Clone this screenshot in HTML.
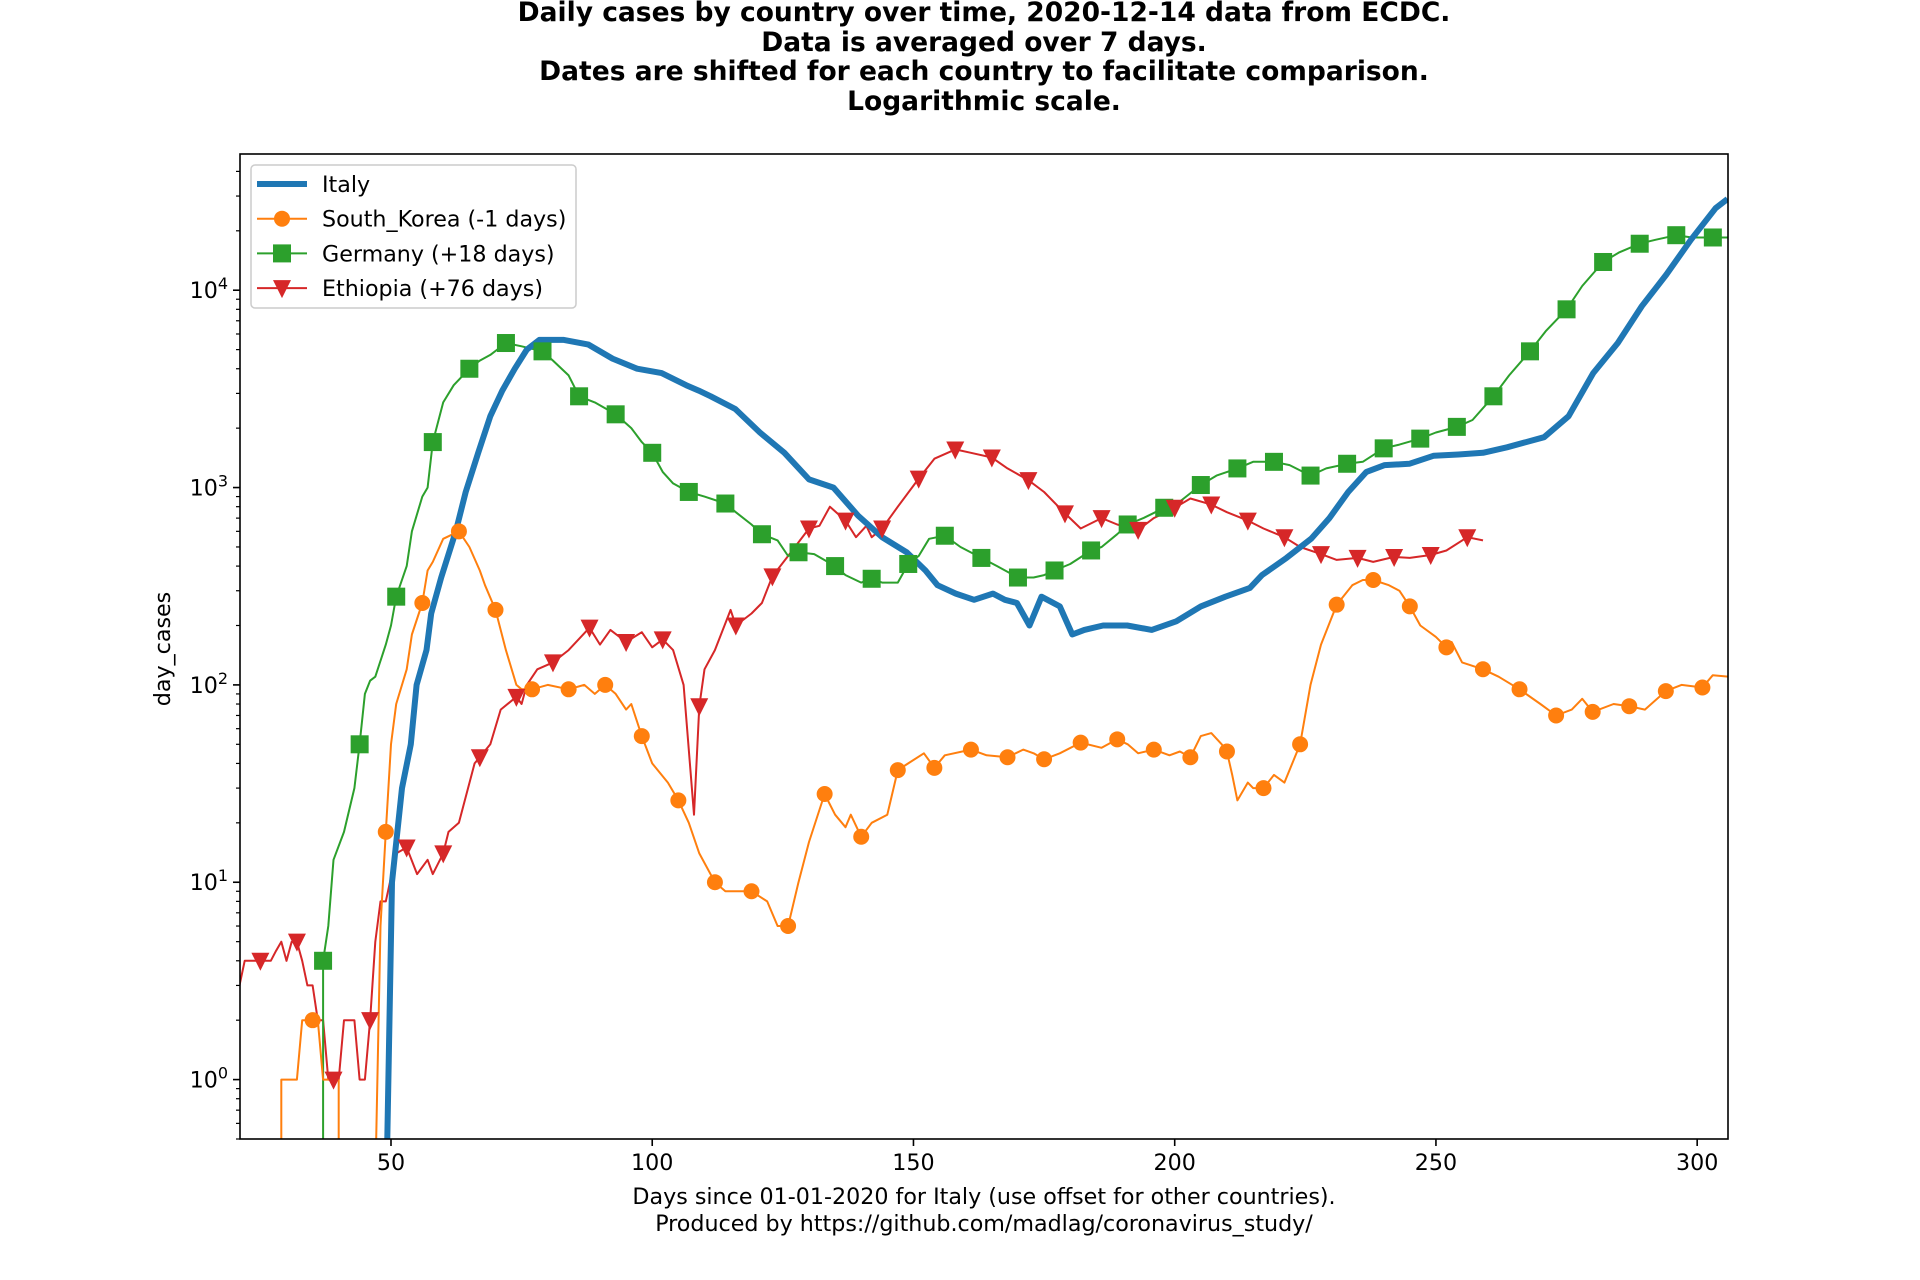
<!DOCTYPE html>
<html><head><meta charset="utf-8"><style>
html,body{margin:0;padding:0;background:#fff;width:1920px;height:1280px;overflow:hidden}
svg{display:block;font-family:"DejaVu Sans","Liberation Sans",sans-serif}
</style></head><body>
<svg id="chart" width="1920" height="1280" viewBox="0 0 1920 1280" xmlns="http://www.w3.org/2000/svg">
<g font-weight="bold" font-size="26.5" text-anchor="middle" fill="#000">
<text x="984" y="21">Daily cases by country over time, 2020-12-14 data from ECDC.</text>
<text x="984" y="51">Data is averaged over 7 days.</text>
<text x="984" y="80">Dates are shifted for each country to facilitate comparison.</text>
<text x="984" y="110">Logarithmic scale.</text>
</g>
<defs><clipPath id="plotclip"><rect x="240" y="154" width="1488" height="985"/></clipPath></defs>
<g id="axes"></g>
<g id="series" clip-path="url(#plotclip)"></g>
<rect x="240" y="154" width="1488" height="985" fill="none" stroke="#000" stroke-width="1.6"/>
<text x="0" y="0" font-size="22.2" text-anchor="middle" transform="translate(170,649) rotate(-90)">day_cases</text>
<text x="984" y="1204" font-size="22.2" text-anchor="middle">Days since 01-01-2020 for Italy (use offset for other countries).</text>
<text x="984" y="1231" font-size="22.2" text-anchor="middle">Produced by https://github.com/madlag/coronavirus_study/</text>
<g id="legend"></g>
</svg>
<script>
const xTicks=[50,100,150,200,250,300];
const yDecades=[0,1,2,3,4];
const italyDays=[48.5,49.3,50.2,52.1,53.8,54.9,56.8,57.7,59.6,62.4,64.3,66.7,69,71.3,73.7,76,78.4,83.1,87.8,92.4,97.1,101.8,106.5,108.9,111.2,115.9,120.6,125.3,130,134.7,139.4,144,148.7,152.3,154.6,158.1,161.6,165.2,167.5,169.8,172.2,174.5,178,180.4,182.7,186.3,190.9,195.6,200.3,205,209.7,214.4,216.7,221.4,226.1,229.6,233.2,236.7,240.2,244.9,249.6,254.3,259,263.6,270.7,275.4,280.1,284.8,289.4,294.1,298.8,303.5,305.8];
const italyVals=[0.1,0.5,10,30,50,100,150,230,350,600,950,1500,2300,3100,4000,5000,5600,5600,5300,4500,4000,3800,3300,3100,2900,2500,1900,1500,1100,1000,720,560,470,380,320,290,270,290,270,260,200,280,250,180,190,200,200,190,210,250,280,310,360,440,550,700,950,1200,1300,1320,1450,1470,1500,1600,1800,2300,3800,5400,8300,12000,18000,26000,29000];
const skDays=[29,29,32,33,35,36,37,40,40,47,48,49,50,51,53,54,56,57,58,60,63,65,67,68,70,72,74,75,77,80,84,87,89,91,93,95,96,98,100,103,105,107,109,112,114,119,122,124,126,128,130,133,135,137,138,140,142,145,147,149,152,154,156,161,164,168,171,173,175,178,182,186,189,191,193,196,199,201,203,205,207,209,210,211,212,214,215,217,219,221,224,226,228,231,234,236,238,241,243,245,247,250,252,253,255,259,262,266,270,273,276,278,280,284,287,290,294,297,301,303,306];
const skVals=[0.3,1,1,2,2,2,1,1,0.3,0.3,6,18,50,80,120,180,260,380,420,550,600,500,380,320,240,150,100,95,95,100,95,100,90,100,90,75,80,55,40,32,26,20,14,10,9,9,8,6,6,10,16,28,22,19,22,17,20,22,37,40,45,38,44,47,44,43,47,45,42,45,51,48,53,50,45,47,44,46,43,55,57,50,46,35,26,32,30,30,35,32,50,100,160,255,320,340,340,320,300,250,200,175,155,165,130,120,110,95,80,70,75,85,73,80,78,75,93,100,97,112,110];
const deDays=[37,37,38,39,41,43,44,45,46,47,49,50,51,53,54,56,57,58,60,62,65,67,69,72,75,79,81,84,86,89,93,96,98,100,102,104,107,110,114,116,119,121,124,126,128,131,135,137,140,142,144,147,149,151,153,156,159,163,166,170,173,175,177,180,184,186,189,191,194,198,201,205,208,212,215,219,222,226,229,233,236,240,243,247,250,254,257,261,264,268,271,275,278,282,285,289,292,296,299,303,306];
const deVals=[0.3,4,6,13,18,30,50,90,105,110,160,200,280,400,600,900,1000,1700,2700,3300,4000,4400,4700,5400,5200,4900,4400,3700,2900,2700,2350,2000,1700,1500,1200,1050,950,900,830,750,650,580,540,450,470,460,400,360,330,345,330,330,410,450,550,570,500,440,400,350,350,360,380,410,480,500,580,650,700,790,850,1030,1150,1250,1350,1350,1300,1150,1250,1320,1350,1580,1650,1770,1900,2030,2200,2900,3700,4900,6200,8000,10500,13900,15500,17200,18000,19000,18500,18500,18500];
const etDays=[20,21,22,24,25,27,28,29,30,31,32,33,34,35,36,37,38,39,40,41,42,43,44,45,46,47,48,49,51,53,55,57,58,60,61,63,66,67,69,71,74,75,76,78,81,84,88,90,92,95,98,100,102,104,106,108,109,110,112,115,116,119,121,123,126,130,132,134,137,139,141,142,144,147,151,154,158,161,165,168,172,175,179,182,186,189,193,196,200,203,207,210,214,217,221,224,228,231,235,238,242,245,249,252,256,259];
const etVals=[3,3,4,4,4,4,4.5,5,4,5,5,4,3,3,2,2,1,1,1,2,2,2,1,1,2,5,8,8,14,15,11,13,11,14,18,20,40,43,50,75,87,80,100,120,130,150,195,160,190,165,185,155,170,150,100,22,78,120,150,240,200,230,260,355,450,620,640,800,680,560,640,560,620,800,1110,1400,1560,1500,1420,1250,1090,950,740,620,700,650,610,700,790,880,820,750,680,620,560,500,460,430,440,420,445,440,455,480,560,540];

const X0=240,X1=1728,Y0=154,Y1=1139,XMIN=21.1,XMAX=305.9,LMIN=Math.log10(0.5),LMAX=Math.log10(49000);
function xs(d){return X0+(d-XMIN)/(XMAX-XMIN)*(X1-X0);}
function ys(v){return Y1-(Math.log10(Math.max(v,0.01))-LMIN)/(LMAX-LMIN)*(Y1-Y0);}
const NS='http://www.w3.org/2000/svg';
function mk(tag,attrs,parent){const e=document.createElementNS(NS,tag);for(const k in attrs)e.setAttribute(k,attrs[k]);parent.appendChild(e);return e;}
const axes=document.getElementById('axes');
xTicks.forEach(t=>{
  const l=mk('line',{x1:xs(t),x2:xs(t),y1:Y1,y2:Y1+7,stroke:'#000','stroke-width':1.6},axes);
  
  
  const tx=mk('text',{x:xs(t),y:Y1+31,'font-size':22.2,'text-anchor':'middle'},axes);
  tx.textContent=t;
  
  
});
for(let d=-1;d<=4;d++){
  for(let m=1;m<10;m++){
    const v=m*Math.pow(10,d);
    if(v<0.5||v>49000)continue;
    const y=ys(v);
    const l=mk('line',{x1:X0-(m===1?7:4),x2:X0,y1:y,y2:y,stroke:'#000','stroke-width':m===1?1.6:1.2},axes);
    
    
  }
}
yDecades.forEach(d=>{
  const y=ys(Math.pow(10,d));
  const tx=mk('text',{x:X0-12,y:y+8,'font-size':22.2,'text-anchor':'end'},axes);
  tx.innerHTML='10<tspan font-size="16" dy="-9">'+d+'</tspan>';
  
  
});
const ser=document.getElementById('series');
function line(days,vals,color,w,name){
  const pts=days.map((d,i)=>xs(d).toFixed(1)+','+ys(vals[i]).toFixed(1)).join(' ');
  const p=mk('polyline',{points:pts,fill:'none',stroke:color,'stroke-width':w,'stroke-linejoin':'round'},ser);
  
  
}
function marker(shape,cx,cy,color,g){
  let e;
  if(shape==='o')e=mk('circle',{cx:cx,cy:cy,r:8,fill:color},g);
  else if(shape==='s')e=mk('rect',{x:cx-9,y:cy-9,width:18,height:18,fill:color},g);
  else e=mk('polygon',{points:(cx-9)+','+(cy-8)+' '+(cx+9)+','+(cy-8)+' '+cx+','+(cy+10),fill:color},g);
  return e;
}
function markers(days,vals,start,shape,color,name){
  days.forEach((d,i)=>{
    if((d-start)%7!==0||vals[i]<0.5)return;
    if(i>0&&days[i-1]===d&&vals[i-1]>=0.5)return;
    const e=marker(shape,xs(d),ys(vals[i]),color,ser);
    
    
  });
}
line(etDays,etVals,'#d62728',2,'ethiopia-line');
line(deDays,deVals,'#2ca02c',2,'germany-line');
line(skDays,skVals,'#ff7f0e',2,'south-korea-line');
line(italyDays,italyVals,'#1f77b4',6,'italy-line');
markers(skDays,skVals,35,'o','#ff7f0e','south-korea-marker');
markers(deDays,deVals,37,'s','#2ca02c','germany-marker');
markers(etDays,etVals,25,'v','#d62728','ethiopia-marker');

const lg=document.getElementById('legend');
const box=mk('rect',{x:251,y:165,width:325,height:143,rx:4,fill:'#fff','fill-opacity':0.8,stroke:'#ccc','stroke-width':1.5},lg);


const legNames=['Italy','South_Korea (-1 days)','Germany (+18 days)','Ethiopia (+76 days)'];
const legColors=['#1f77b4','#ff7f0e','#2ca02c','#d62728'];
const legShapes=['','o','s','v'];
legNames.forEach((n,i)=>{
  const y=184+i*34.7;
  const g=mk('g',{},lg);
  
  
  mk('line',{x1:257,x2:307,y1:y,y2:y,stroke:legColors[i],'stroke-width':i===0?6:2},g);
  if(legShapes[i])marker(legShapes[i],282,y,legColors[i],g);
  const t=mk('text',{x:322,y:y+8,'font-size':22.2},g);
  t.textContent=n;
});
</script>
</body></html>
